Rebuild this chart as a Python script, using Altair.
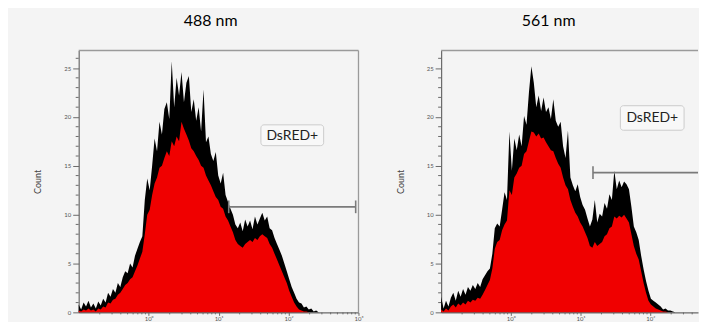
import altair as alt
import pandas as pd

# ---------------- data ----------------
BIN_START_LOG = -1.0      # first bin centre, log10 units
BIN_STEP_LOG = 0.035      # bin width, log10 units

panel_titles = ["488 nm", "561 nm"]
gate_text = "DsRED+"
y_title = "Count"

# 488 nm: upper (black) envelope and lower (red) envelope, counts per bin
left_hi = [0.8, 0.3, 1.0, 0.6, 1.2, 0.5, 0.9, 0.4, 1.1, 0.7,
           1.4, 1.0, 2.0, 1.6, 2.4, 2.0, 3.0, 2.6, 3.6, 4.2,
           4.0, 5.0, 4.6, 5.8, 6.5, 7.2, 7.8, 11.5, 13.7, 12.5,
           15.0, 17.8, 16.5, 19.5, 18.2, 20.8, 21.5, 19.8, 25.7, 21.0,
           24.0, 22.2, 24.6, 21.5, 23.5, 24.2, 20.5, 21.8, 19.6, 21.0,
           18.5, 22.8, 17.4, 18.0, 16.2, 15.5, 16.4, 14.0, 13.2, 14.3,
           12.0, 11.3, 10.6, 10.0, 9.0, 8.6, 9.2, 8.3, 9.5, 8.8,
           9.4, 8.5, 9.8, 9.0, 9.6, 10.2, 9.4, 9.8, 8.6, 8.4,
           7.6, 7.0, 6.4, 5.8, 5.0, 4.2, 3.4, 2.6, 2.0, 1.4,
           1.0, 0.9, 0.5, 0.6, 0.3, 0.4, 0.1, 0.2, 0.0, 0.0]
left_lo = [0.2, 0.1, 0.3, 0.2, 0.4, 0.2, 0.3, 0.1, 0.4, 0.3,
           0.6, 0.5, 1.0, 0.9, 1.3, 1.4, 1.8, 2.0, 2.4, 2.8,
           3.0, 3.4, 3.6, 4.2, 4.8, 5.5, 6.2, 8.0, 10.0, 10.5,
           12.0, 13.2, 13.8, 14.8, 15.0, 15.8, 16.5, 16.0, 17.5, 17.0,
           18.0, 17.5, 19.5, 18.8, 18.2, 17.6, 16.8, 16.5, 16.0, 15.6,
           15.0, 14.8, 14.0, 13.5, 13.0, 12.4, 11.8, 11.5, 10.8, 10.6,
           9.8, 9.4, 8.8, 8.2, 7.4, 7.0, 6.8, 6.6, 7.0, 7.2,
           7.4, 7.2, 7.6, 7.4, 7.8, 8.0, 7.8, 7.6, 7.0, 6.6,
           6.0, 5.4, 4.8, 4.2, 3.6, 3.0, 2.2, 1.6, 1.0, 0.6,
           0.3, 0.2, 0.1, 0.1, 0.0, 0.0, 0.0, 0.0, 0.0, 0.0]

# 561 nm
right_hi = [1.6, 0.4, 1.2, 0.6, 1.5, 2.0, 1.2, 2.2, 1.6, 2.4,
            1.8, 2.6, 2.2, 2.8, 2.4, 3.0, 2.6, 3.4, 3.8, 4.2,
            4.5, 6.0, 8.6, 9.1, 8.8, 10.5, 12.3, 11.5, 18.5, 14.5,
            17.8, 16.6, 18.2, 17.0, 20.1, 19.2, 22.5, 25.2, 23.5, 21.0,
            22.2, 20.6, 22.0, 20.5, 21.0, 19.8, 21.8, 19.6, 19.0, 19.5,
            17.0, 15.8, 18.6, 13.8, 13.0, 12.4, 13.1, 11.8, 11.0, 10.5,
            9.6, 8.8, 9.5, 11.5, 9.2, 10.1, 9.8, 11.2, 10.6, 12.1,
            11.5, 14.5, 12.6, 13.5, 12.8, 13.4, 13.1, 12.6, 10.8, 8.8,
            8.2, 7.4, 5.8, 4.4, 3.2, 2.2, 1.4, 1.2, 1.0, 0.8,
            0.6, 0.3, 0.4, 0.2, 0.2, 0.1, 0.0, 0.0, 0.0, 0.0]
right_lo = [0.3, 0.1, 0.4, 0.2, 0.6, 0.8, 0.5, 0.9, 0.7, 1.0,
            0.8, 1.2, 1.0, 1.3, 1.2, 1.5, 1.4, 1.8, 2.3, 2.8,
            3.3, 4.5, 6.5, 7.2, 7.4, 8.4, 9.0, 9.4, 12.5, 12.0,
            13.8, 14.2, 14.8, 15.0, 16.2, 16.5, 17.5, 18.5, 18.4, 18.0,
            18.3, 17.8, 17.9, 17.4, 17.0, 16.6, 16.5, 15.8, 15.2, 14.8,
            13.8, 13.0, 12.6, 11.5, 10.8, 10.2, 9.8, 9.2, 8.8, 8.2,
            7.6, 6.8, 6.6, 7.2, 6.8, 7.0, 7.2, 7.8, 8.0, 8.6,
            8.8, 9.8, 9.6, 9.9, 9.7, 10.0, 9.6, 9.2, 8.0, 6.8,
            6.0, 5.4, 4.2, 3.0, 2.0, 1.2, 0.8, 0.6, 0.4, 0.3,
            0.2, 0.1, 0.1, 0.0, 0.0, 0.0, 0.0, 0.0, 0.0, 0.0]

# gates (count level, start, end) and label annotations
left_gate = [10.8, 13.96, 912.0]
right_gate = [14.3, 15.1, 485.0]
gate_tick_half = 0.65
left_label = [113.0, 18.07]             # x, count (centre of text)
left_box = [40.3, 317.7, 17.06, 19.19]  # x, x2, count, count2
right_label = [107.0, 19.9]
right_box = [37.3, 306.0, 18.64, 21.15]

left_x_domain = [0.1, 1000.0]
right_x_domain = [0.1, 485.0]          # the right panel runs off the picture
y_domain = [0, 26.8]
major_x = [1, 10, 100, 1000]
minor_x = [k * 10.0 ** d for d in range(-1, 3) for k in range(2, 10)]
major_y = [0, 5, 10, 15, 20, 25]
minor_y = [v for v in range(1, 27) if v % 5 != 0]

RED = "#f00000"
AXIS_GREY = "#6a6a6a"
BOX_GREY = "#9a9a9a"
GATE_GREY = "#7a7a7a"
PANEL_H = 263


def panel(hi, lo, title, gate, label, box, dx, x_domain, width, right_border):
    xs = [10 ** (BIN_START_LOG + BIN_STEP_LOG * i) for i in range(len(hi))]
    df_hi = pd.DataFrame({"x": xs, "count": hi})
    df_lo = pd.DataFrame({"x": xs, "count": lo})

    xscale = alt.Scale(type="log", domain=x_domain, nice=False)
    yscale = alt.Scale(domain=y_domain, nice=False)
    xmaj = [v for v in major_x if v <= x_domain[1]]
    xaxis = alt.Axis(
        values=xmaj,
        labelExpr="datum.value == 1 ? '10⁰' : datum.value == 10 ? '10¹' : "
                  "datum.value == 100 ? '10²' : '10³'",
        tickSize=3, labelFontSize=6, labelPadding=0, labelFlush=False,
        labelOverlap=False, grid=False, title=None,
    )
    yaxis = alt.Axis(
        values=major_y, tickSize=6, labelFontSize=6, labelPadding=2,
        labelOverlap=False, grid=False,
        title=y_title, titleFontSize=9, titleFontWeight="normal", titleColor="#444444",
        titlePadding=21, titleFont="Lato",
    )

    black = alt.Chart(df_hi).mark_area(color="black", interpolate="linear").encode(
        x=alt.X("x:Q", scale=xscale, axis=xaxis),
        y=alt.Y("count:Q", scale=yscale, axis=yaxis),
    )
    red = alt.Chart(df_lo).mark_area(color=RED, interpolate="linear").encode(
        x="x:Q", y="count:Q"
    )

    # minor ticks of both axes
    ymin_df = pd.DataFrame({"count": minor_y})
    y_minor = alt.Chart(ymin_df).mark_rule(color=AXIS_GREY, strokeWidth=1).encode(
        x=alt.value(-3), x2=alt.value(0), y="count:Q"
    )
    xmin_df = pd.DataFrame({"x": [v for v in minor_x if v < x_domain[1]]})
    x_minor = alt.Chart(xmin_df).mark_rule(color=AXIS_GREY, strokeWidth=1).encode(
        x="x:Q", y=alt.value(PANEL_H), y2=alt.value(PANEL_H + 2)
    )

    # frame: top line (and right line where it is visible)
    top_df = pd.DataFrame({"x": [x_domain[0]], "x2": [x_domain[1]], "count": [y_domain[1]]})
    frame = [alt.Chart(top_df).mark_rule(color=BOX_GREY, strokeWidth=1.3).encode(
        x="x:Q", x2="x2:Q", y="count:Q")]
    if right_border:
        rb_df = pd.DataFrame({"x": [x_domain[1]], "count": [y_domain[0]], "count2": [y_domain[1]]})
        frame.append(alt.Chart(rb_df).mark_rule(color=BOX_GREY, strokeWidth=1.3).encode(
            x="x:Q", y="count:Q", y2="count2:Q"))

    gdf = pd.DataFrame({"x": [gate[1]], "x2": [gate[2]], "count": [gate[0]]})
    gate_line = alt.Chart(gdf).mark_rule(color=GATE_GREY, strokeWidth=1.6).encode(
        x="x:Q", x2="x2:Q", y="count:Q"
    )
    ends = [gate[1]] + ([gate[2]] if gate[2] < x_domain[1] else [])
    tdf = pd.DataFrame({"x": ends,
                        "count": [gate[0] - gate_tick_half] * len(ends),
                        "count2": [gate[0] + gate_tick_half] * len(ends)})
    gate_ticks = alt.Chart(tdf).mark_rule(color=GATE_GREY, strokeWidth=1.6).encode(
        x="x:Q", y="count:Q", y2="count2:Q"
    )

    bdf = pd.DataFrame({"x": [box[0]], "x2": [box[1]], "count": [box[2]], "count2": [box[3]]})
    box_mark = alt.Chart(bdf).mark_rect(
        fill="#f8f8f8", stroke="#cccccc", strokeWidth=1, cornerRadius=3
    ).encode(x="x:Q", x2="x2:Q", y="count:Q", y2="count2:Q")
    ldf = pd.DataFrame({"x": [label[0]], "count": [label[1]], "t": [gate_text]})
    text_mark = alt.Chart(ldf).mark_text(
        font="Lato", fontSize=14, color="#222222", baseline="middle", align="center"
    ).encode(x="x:Q", y="count:Q", text="t:N")

    return alt.layer(black, red, y_minor, x_minor, *frame, gate_line, gate_ticks,
                     box_mark, text_mark).properties(
        width=width, height=PANEL_H,
        title=alt.TitleParams(title, font="Lato", fontSize=16, fontWeight="normal",
                              color="black", dx=dx, offset=21),
    )


left = panel(left_hi, left_lo, panel_titles[0], left_gate, left_label, left_box,
             -8, left_x_domain, 281, True)
right = panel(right_hi, right_lo, panel_titles[1], right_gate, right_label, right_box,
              -21, right_x_domain, 258, False)

chart = alt.hconcat(left, right, spacing=33).properties(
    background="#f4f4f4",
    padding={"left": 26, "top": 4, "right": 0, "bottom": 0},
).configure_view(
    strokeWidth=0
).configure_axis(
    domainColor=AXIS_GREY, tickColor=AXIS_GREY, labelColor="#555555", labelFont="Lato",
    domainWidth=1.2, tickWidth=1,
)

chart.save("out.html", embed_options={"renderer": "svg", "actions": False})
